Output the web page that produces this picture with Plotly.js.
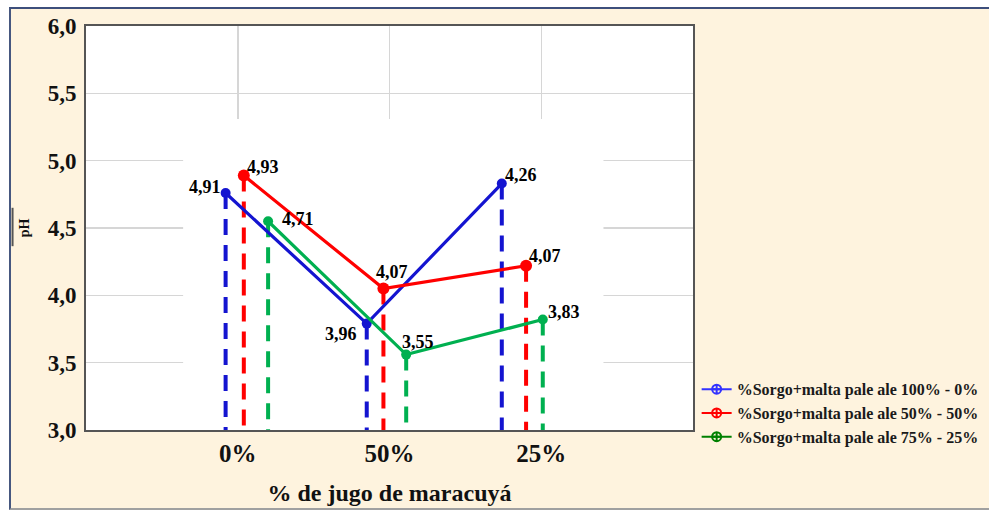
<!DOCTYPE html>
<html>
<head>
<meta charset="utf-8">
<script src="https://cdn.plot.ly/plotly-3.0.1.min.js"></script>
<style>
  html, body { margin: 0; padding: 0; background: #ffffff; overflow: hidden; width: 989px; height: 510px; }
  #frame { position: absolute; left: 9px; top: 7px; width: 1030px; height: 499px;
           border-left: 2px solid #46577f; border-top: 2px solid #3d4f7c; border-bottom: 2px solid #a0a0a0;
           background: #fef3de; }
  #chart { position: absolute; left: 0; top: 0; }
</style>
</head>
<body>
<div id="frame"><div id="chart"></div></div>
<script>
// ---------- data ----------
const categories = ["0%", "50%", "25%"];
const seriesNames = [
  "%Sorgo+malta pale ale 100% - 0%",
  "%Sorgo+malta pale ale 50% - 50%",
  "%Sorgo+malta pale ale 75% - 25%"
];
// plotted pH (as drawn in the picture)
const phBlue  = [4.76, 3.79, 4.83];
const phRed   = [4.89, 4.05, 4.22];
const phGreen = [4.55, 3.56, 3.82];
// printed value labels
const labelsBlue  = ["4,91", "3,96", "4,26"];
const labelsRed   = ["4,93", "4,07", "4,07"];
const labelsGreen = ["4,71", "3,55", "3,83"];

// ---------- styling ----------
const serif = "Liberation Serif, Times New Roman, serif";
const plotColors   = ["#1414d0", "#ff0000", "#00b050"];
const legendColors = ["#3232ff", "#ff0000", "#008000"];
// horizontal placement of each series' points relative to the category position
const xOffsets = [
  [-0.08, -0.15, -0.26],
  [ 0.04, -0.04, -0.10],
  [ 0.20,  0.11,  0.01]
];
// label placement per point: [xanchor, xshift, yshift]
const labelPlace = [
  [["right", -3, 6], ["right", -8, -10], ["left", 1, 9]],
  [["left", 1, 8],   ["center", 9, 17],  ["left", 1, 10]],
  [["left", 12, 2],  ["left", -6, 13],   ["left", 3, 8]]
];

const values = [phBlue, phRed, phGreen];
const labels = [labelsBlue, labelsRed, labelsGreen];
const yBase = 3.0;

const traces = [];
const annotations = [];

// dashed drop lines
values.forEach((vals, s) => {
  const xs = [], ys = [];
  vals.forEach((v, i) => {
    const x = i + xOffsets[s][i];
    xs.push(x, x, null);
    ys.push(v, yBase, null);
  });
  traces.push({
    x: xs, y: ys, type: "scatter", mode: "lines", showlegend: false, hoverinfo: "skip",
    line: { color: plotColors[s], width: 4, dash: "16px,10px" }
  });
});

// solid series lines with markers
values.forEach((vals, s) => {
  const xs = vals.map((v, i) => i + xOffsets[s][i]);
  traces.push({
    x: xs, y: vals, type: "scatter", mode: "lines+markers", name: seriesNames[s], showlegend: false,
    line: { color: plotColors[s], width: 3.2 },
    marker: { color: plotColors[s], size: s === 1 ? 12 : 10, symbol: "circle" }
  });
  vals.forEach((v, i) => {
    const p = labelPlace[s][i];
    annotations.push({
      x: xs[i], y: v, xref: "x", yref: "y", text: labels[s][i], showarrow: false,
      xanchor: p[0], yanchor: "middle", xshift: p[1], yshift: p[2],
      font: { family: serif, size: 18, color: "#000", weight: "bold" }
    });
  });
});

// legend entries
seriesNames.forEach((n, s) => {
  traces.push({
    x: [null], y: [null], type: "scatter", mode: "lines+markers", name: n, showlegend: true,
    line: { color: legendColors[s], width: 2 },
    marker: { color: legendColors[s], size: 9, symbol: "circle-cross-open", line: { width: 2, color: legendColors[s] } }
  });
});

const layout = {
  width: 1030, height: 499,
  margin: { l: 75, r: 348, t: 17, b: 78 },
  paper_bgcolor: "rgba(0,0,0,0)",
  plot_bgcolor: "#ffffff",
  separators: ",.",
  showlegend: true,
  legend: {
    x: 1.006, xanchor: "left", y: 0.143, yanchor: "top",
    bgcolor: "rgba(0,0,0,0)", borderwidth: 0,
    font: { family: serif, size: 16, color: "#1a1a1a", weight: "bold" },
    tracegroupgap: 0, itemwidth: 30
  },
  xaxis: {
    range: [-1, 3], tickmode: "array", tickvals: [0, 1, 2], ticktext: categories,
    showgrid: true, gridcolor: "#d6d6d6", gridwidth: 1.5, zeroline: false,
    showline: true, mirror: true, linecolor: "#555555", linewidth: 2,
    ticks: "", tickfont: { family: serif, size: 25, color: "#111", weight: "bold" },
    title: { text: "% de jugo de maracuyá", standoff: 18,
             font: { family: serif, size: 24, color: "#111", weight: "bold" } },
    fixedrange: true
  },
  yaxis: {
    range: [3, 6], dtick: 0.5, tickformat: ".1f",
    showgrid: true, gridcolor: "#d6d6d6", gridwidth: 1.5, zeroline: false,
    showline: true, mirror: true, linecolor: "#555555", linewidth: 2,
    ticks: "", ticklabelstandoff: 3,
    tickfont: { family: serif, size: 23, color: "#111", weight: "bold" },
    title: { text: "pH", standoff: 15, font: { family: serif, size: 14, color: "#111", weight: "bold" } },
    fixedrange: true
  },
  shapes: [
    { type: "rect", xref: "x", yref: "y", x0: -0.36, x1: 2.41, y0: 3, y1: 5.31,
      fillcolor: "#ffffff", line: { width: 0 }, layer: "between" },
    { type: "line", xref: "paper", yref: "paper", x0: -0.121, x1: -0.121, y0: 0.455, y1: 0.55,
      line: { color: "#555555", width: 2 } }
  ],
  annotations: annotations
};

Plotly.newPlot("chart", traces, layout, { displayModeBar: false, staticPlot: true });
</script>
</body>
</html>
